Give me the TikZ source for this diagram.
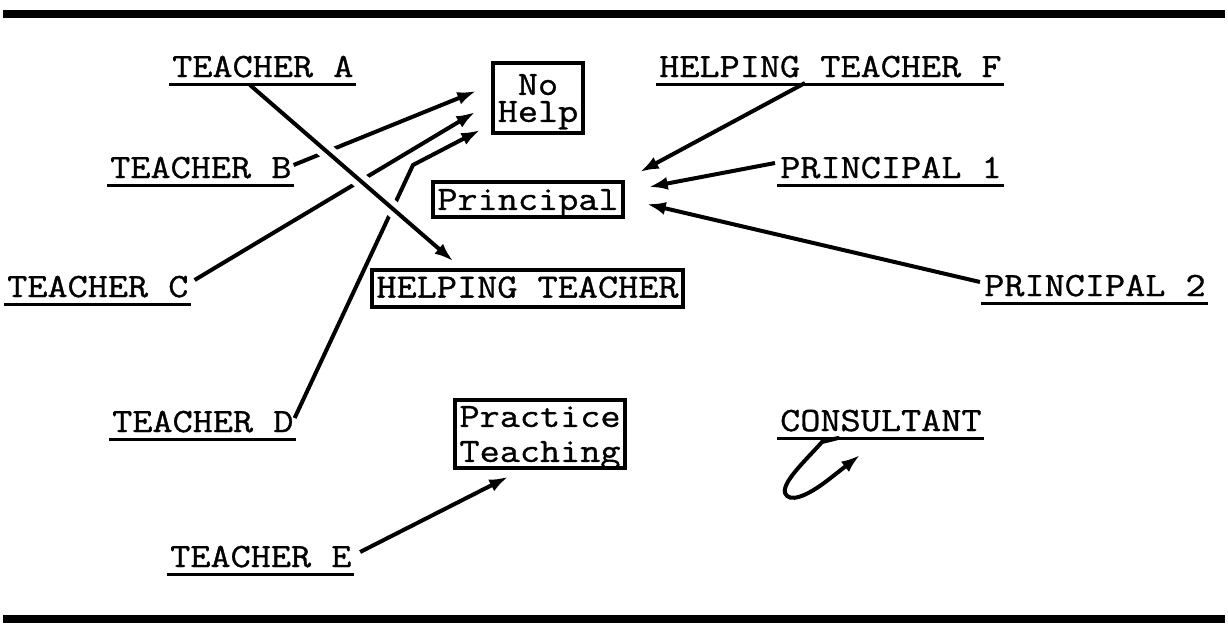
\documentclass[tikz,border=0pt]{standalone}
\usepackage{fontspec}
\newfontfamily\tw[FakeStretch=1.15,FakeBold=1]{Latin Modern Mono}
\usetikzlibrary{calc,arrows.meta}

\tikzset{
  lbl/.style={inner sep=0pt, anchor=base west, font=\tw\fontsize{34}{38}\selectfont},
  boxed/.style={draw, line width=3.5pt, inner sep=0pt, align=center},
  rule/.style={line width=8pt},
  uline/.style={line width=3pt},
  tip/.style={-{Latex[length=19pt,width=13pt]}},
  link/.style={line width=4pt, tip},
  halo/.style={white, line width=16pt}
}

\newcommand{\underlined}[1]{%
  \draw[uline] ($(#1.base west)+(-3,7)$) -- ($(#1.base east)+(2,7)$);}

\begin{document}
\begin{tikzpicture}[x=1pt,y=-1pt]
  \useasboundingbox (0,0) rectangle (1228,627);

  % horizontal rules framing the chart
  \coordinate (rl1) at (3,14);   \coordinate (rr1) at (1225,14);
  \coordinate (rl2) at (3,619);  \coordinate (rr2) at (1225,619);
  \draw[rule] (rl1) -- (rr1);
  \draw[rule] (rl2) -- (rr2);

  % typed labels
  \node[lbl] (tA)  at (172,77)  {TEACHER A};
  \node[lbl] (tF)  at (659,77)  {HELPING TEACHER F};
  \node[lbl] (tB)  at (110,178) {TEACHER B};
  \node[lbl] (tP1) at (780,178) {PRINCIPAL 1};
  \node[lbl] (tC)  at (7,297)   {TEACHER C};
  \node[lbl] (tP2) at (984,296) {PRINCIPAL 2};
  \node[lbl] (tD)  at (112,432) {TEACHER D};
  \node[lbl] (tCo) at (780,431) {CONSULTANT};
  \node[lbl] (tE)  at (170,567) {TEACHER E};
  \foreach \n in {tA,tF,tB,tP1,tC,tP2,tD,tCo,tE}{\underlined{\n}}

  % boxed categories
  \node[boxed, font=\tw\fontsize{34}{27}\selectfont, text depth=0pt,
        minimum width=90pt, minimum height=70pt] (nh) at (538,98) {No\\Help};
  \node[boxed, font=\tw\fontsize{34}{38}\selectfont, text depth=0pt,
        minimum width=190pt, minimum height=35pt] (pr) at (528,199.5) {Principal};
  \node[boxed, font=\tw\fontsize{34}{38}\selectfont, text depth=3pt,
        minimum width=311pt, minimum height=37pt] (ht) at (527.5,288.5) {HELPING TEACHER};
  \node[boxed, font=\tw\fontsize{34}{35}\selectfont, text depth=0pt,
        minimum width=170pt, minimum height=68pt] (pt) at (540,434) {Practice\\Teaching};

  % teachers turning to no one
  \draw[link] ($(tB.base east)+(2,-13)$) -- ($(nh.west)+(-15,-7)$);
  \draw[link] ($(tC.base east)+(6,-17)$) -- ($(nh.west)+(-16,14)$);
  \draw[link] ($(tD.base east)+(1,-14)$) -- (413,165) -- ($(nh.west)+(-11,32)$);

  % teacher A to the helping teacher, crossing the others
  \coordinate (aS) at ($(tA.base west)+(78,8)$);
  \coordinate (aE) at ($(ht.north west)+(83,-7)$);
  \draw[halo] ($(aS)!0.3!(aE)$) -- ($(aS)!0.8!(aE)$);
  \draw[link] (aS) -- (aE);

  % to the principal
  \draw[link] ($(tF.base west)+(146,6)$) -- ($(pr.east)+(15,-27.5)$);
  \draw[link] ($(tP1.base west)+(-5,-15)$) -- ($(pr.east)+(24,-12.5)$);
  \draw[link] ($(tP2.base west)+(-4,-14)$) -- ($(pr.east)+(22,4.5)$);

  % practice teaching
  \draw[link] ($(tE.base east)+(8.5,-15)$) -- ($(pt.south west)+(55,7)$);

  % consultant loops back on itself
  \draw[line width=4pt, tip, line cap=round]
    ($(tCo.base west)+(58,7)$) -- ++(-16,4)
    .. controls (806,460) and (782,482) .. (785,493)
    .. controls (789,503) and (806,497) .. (828,480) -- (860,455);
\end{tikzpicture}
\end{document}
